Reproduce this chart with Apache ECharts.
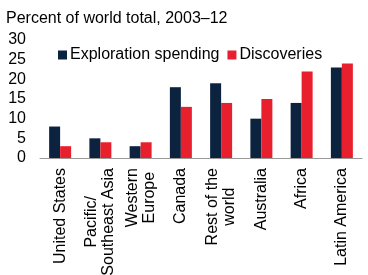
<!DOCTYPE html>
<html><head><meta charset="utf-8">
<script src="https://cdn.jsdelivr.net/npm/echarts@6/dist/echarts.min.js"></script>
</head>
<body style="margin:0;padding:0;background:#fff;">
<div id="chart" style="width:368px;height:275px;"></div>
<script>
// Share of world total, 2003-12 (%)
const regions = ['United States', 'Pacific/\nSoutheast Asia', 'Western\nEurope', 'Canada',
  'Rest of the\nworld', 'Australia', 'Africa', 'Latin America'];
const exploration = [8, 5, 3, 18, 19, 10, 14, 23];
const discoveries = [3, 4, 4, 13, 14, 15, 22, 24];
const yTicks = { min: 0, max: 30, step: 5 };

const font = 'Liberation Sans, Arial, sans-serif';
const chart = echarts.init(document.getElementById('chart'));
chart.setOption({
  animation: false,
  textStyle: { fontFamily: font },
  title: {
    text: 'Percent of world total, 2003\u201312',
    left: 6, top: 11, padding: 0,
    textStyle: { fontFamily: font, fontSize: 16, fontWeight: 'normal', color: '#000' }
  },
  legend: {
    left: 58, top: 47, padding: 0,
    itemWidth: 9, itemHeight: 9, itemGap: 8,
    icon: 'rect',
    textStyle: { fontFamily: font, fontSize: 16, color: '#000', padding: [0, 0, 0, -2] }
  },
  grid: { left: 40, right: 6, top: 40, bottom: 117, outerBoundsMode: 'none', containLabel: false },
  xAxis: {
    type: 'category',
    data: regions,
    axisTick: { show: false },
    axisLine: { lineStyle: { color: '#999', width: 1 } },
    axisLabel: {
      rotate: 90, margin: 10, interval: 0, color: '#000', fontSize: 16, fontFamily: font,
      lineHeight: 17,
      formatter: v => v.split('\n').map(s => '{c|' + s + '}').join('\n'),
      rich: { c: { align: 'center', fontSize: 16, fontFamily: font, color: '#000', lineHeight: 17 } }
    }
  },
  yAxis: {
    type: 'value',
    min: yTicks.min, max: yTicks.max, interval: yTicks.step,
    splitLine: { show: false },
    axisLine: { show: false },
    axisTick: { show: false },
    axisLabel: { color: '#000', fontSize: 16, fontFamily: font, margin: 14 }
  },
  series: [
    { name: 'Exploration spending', type: 'bar', data: exploration, barWidth: 11, barGap: '0%',
      itemStyle: { color: '#0c2340' } },
    { name: 'Discoveries', type: 'bar', data: discoveries, barWidth: 11,
      itemStyle: { color: '#e8202e' } }
  ]
});
</script>
</body></html>
